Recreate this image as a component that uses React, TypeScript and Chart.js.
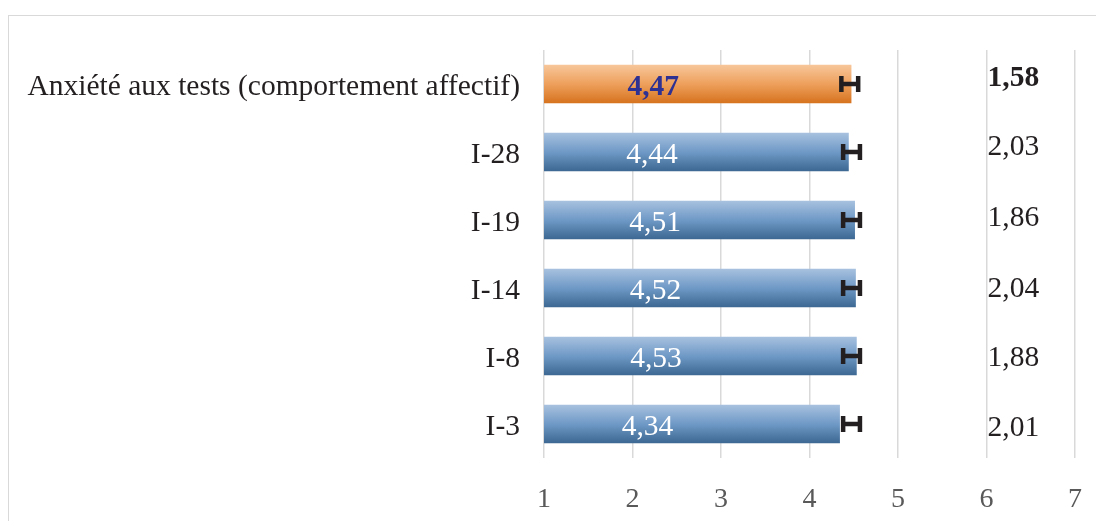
import React, { useEffect, useRef } from "react";
import { Chart, registerables } from "chart.js";

Chart.register(...registerables);

const categories = [
  "Anxiété aux tests (comportement affectif)",
  "I-28",
  "I-19",
  "I-14",
  "I-8",
  "I-3",
];
const means = [4.47, 4.44, 4.51, 4.52, 4.53, 4.34];
const sds = [1.58, 2.03, 1.86, 2.04, 1.88, 2.01];
const errLow = [4.36, 4.38, 4.38, 4.38, 4.38, 4.38];
const errHigh = [4.55, 4.57, 4.57, 4.57, 4.57, 4.57];
const highlightIndex = 0;
const xTicks = [1, 2, 3, 4, 5, 6, 7];

const FONT = "'Liberation Serif', 'Times New Roman', serif";
const FS = 29.5;
const SD_DY = [-6, -5, -2, 1, 2, 4];
const fmt = (v: number) => v.toFixed(2).replace(".", ",");

const labelsPlugin = {
  id: "customLabels",
  afterDatasetsDraw(chart: any) {
    const ctx = chart.ctx;
    const meta = chart.getDatasetMeta(0);
    const xs = chart.scales.x;
    ctx.save();
    meta.data.forEach((bar: any, i: number) => {
      const cy = bar.y;
      // value label
      const cx = (bar.x + bar.base) / 2;
      ctx.textAlign = "center";
      ctx.textBaseline = "middle";
      if (i === highlightIndex) {
        ctx.font = `bold ${FS}px ${FONT}`;
        ctx.fillStyle = "#2E3192";
      } else {
        ctx.font = `${FS}px ${FONT}`;
        ctx.fillStyle = "#FFFFFF";
      }
      ctx.fillText(fmt(means[i]), cx, cy + 3);
      // error bar (H)
      const x1 = xs.getPixelForValue(errLow[i]);
      const x2 = xs.getPixelForValue(errHigh[i]);
      ctx.strokeStyle = "#231F20";
      ctx.lineWidth = 4.5;
      ctx.lineCap = "butt";
      ctx.beginPath();
      ctx.moveTo(x1, cy);
      ctx.lineTo(x2, cy);
      ctx.moveTo(x1, cy - 8);
      ctx.lineTo(x1, cy + 8);
      ctx.moveTo(x2, cy - 8);
      ctx.lineTo(x2, cy + 8);
      ctx.stroke();
      // sd label
      ctx.textAlign = "left";
      ctx.fillStyle = "#231F20";
      ctx.font = (i === highlightIndex ? "bold " : "") + `${FS}px ${FONT}`;
      ctx.fillText(fmt(sds[i]), xs.getPixelForValue(6) + 1, cy + SD_DY[i]);
    });
    ctx.restore();
  },
};

function gradientFor(context: any) {
  const chart = context.chart;
  const i = context.dataIndex;
  const isHi = i === highlightIndex;
  const ys = chart.scales && chart.scales.y;
  if (!chart.chartArea || !ys) return isHi ? "#E8913F" : "#6A93C0";
  const cy = ys.getPixelForValue(i);
  const g = chart.ctx.createLinearGradient(0, cy - 19, 0, cy + 19);
  if (isHi) {
    g.addColorStop(0, "#F7C69A");
    g.addColorStop(0.5, "#EEA05C");
    g.addColorStop(1, "#D6731F");
  } else {
    g.addColorStop(0, "#A7C1DF");
    g.addColorStop(0.5, "#6F99C6");
    g.addColorStop(1, "#3C6893");
  }
  return g;
}

export default function App() {
  const ref = useRef<HTMLCanvasElement | null>(null);
  useEffect(() => {
    document.body.style.overflow = "hidden";
    const canvas = ref.current!;
    const chart = new Chart(canvas, {
      type: "bar",
      data: {
        labels: categories,
        datasets: [
          {
            data: means,
            backgroundColor: gradientFor as any,
            borderWidth: 0,
            barThickness: 38,
          },
        ],
      },
      options: {
        indexAxis: "y",
        animation: false,
        responsive: false,
        devicePixelRatio: 1,
        layout: { padding: { top: 34, right: 29, left: 0, bottom: 0 } },
        plugins: {
          legend: { display: false },
          tooltip: { enabled: false },
        },
        scales: {
          x: {
            min: 1,
            max: 7,
            afterBuildTicks: (axis: any) => {
              axis.ticks = xTicks.map((v) => ({ value: v }));
            },
            afterFit: (axis: any) => {
              axis.height = 63;
              axis.paddingLeft = 0;
              axis.paddingRight = 0;
            },
            grid: { color: "#D9D9D9", lineWidth: 1.5, drawTicks: false },
            border: { display: false },
            ticks: {
              padding: 25,
              color: "#595959",
              font: { family: FONT, size: 28 },
            },
          },
          y: {
            afterFit: (axis: any) => {
              axis.width = 535;
              axis.paddingTop = 0;
              axis.paddingBottom = 0;
            },
            grid: { display: false, drawTicks: false },
            border: { display: false },
            ticks: {
              padding: 24,
              labelOffset: 3,
              color: "#231F20",
              font: { family: FONT, size: FS },
            },
          },
        },
      },
      plugins: [labelsPlugin],
    } as any);
    return () => chart.destroy();
  }, []);
  return (
    <div
      style={{
        marginTop: 7,
        width: 1096,
        height: 506,
        borderTop: "1.5px solid #D9D9D9",
        borderLeft: "1.5px solid #D9D9D9",
        boxSizing: "border-box",
        background: "#fff",
      }}
    >
      <canvas ref={ref} width={1095} height={505} style={{ display: "block" }} />
    </div>
  );
}
